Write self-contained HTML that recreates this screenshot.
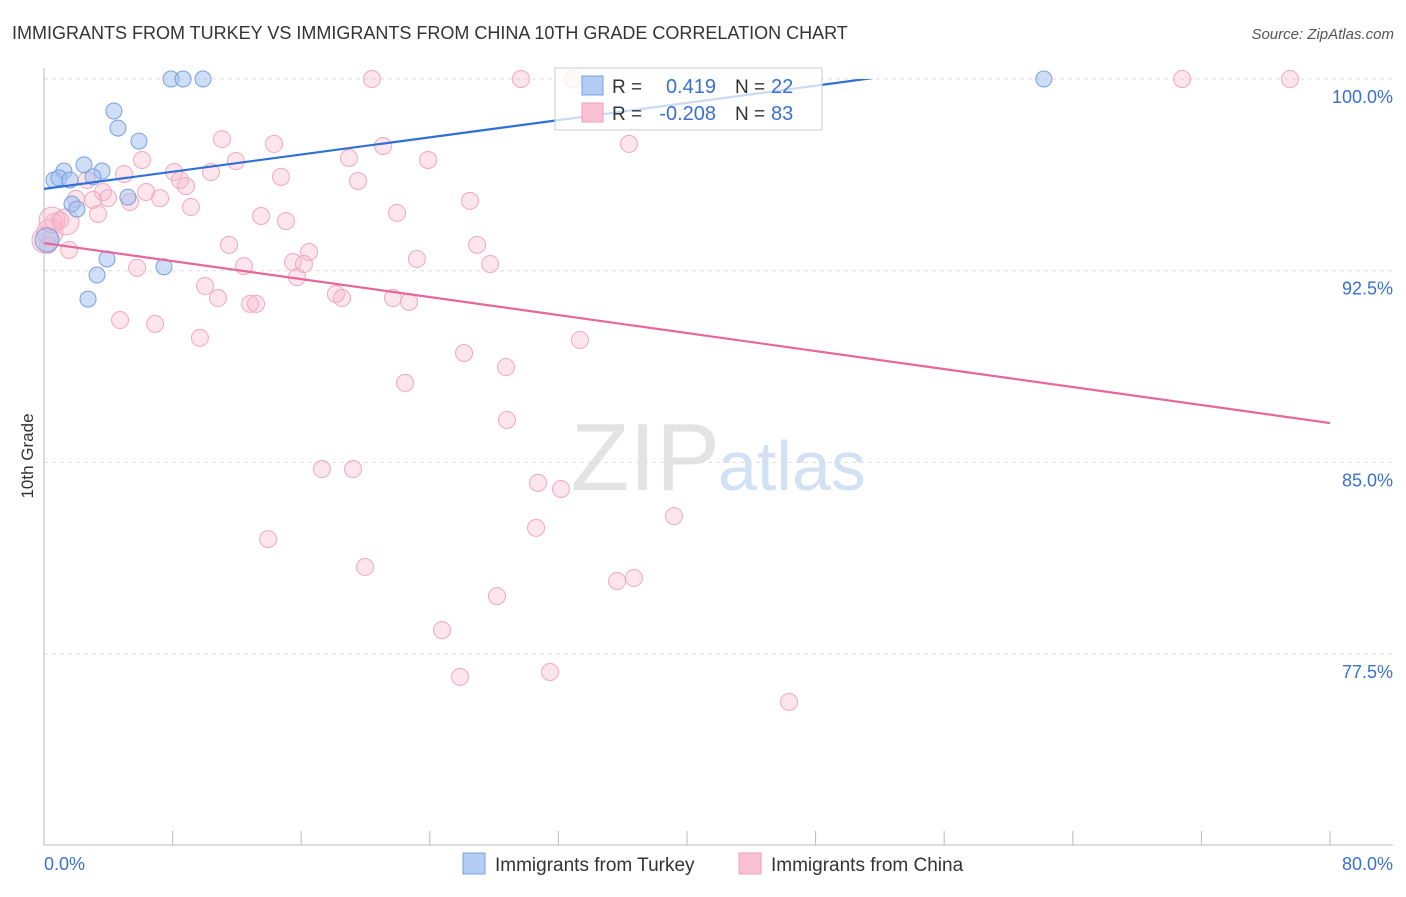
<!DOCTYPE html>
<html><head><meta charset="utf-8"><style>
body{margin:0;background:#fff;font-family:"Liberation Sans",sans-serif;}
svg text{font-family:"Liberation Sans",sans-serif;}
</style></head><body>
<svg id="chart" width="1406" height="892" xmlns="http://www.w3.org/2000/svg">
<text x="12" y="39" font-size="18" fill="#333">IMMIGRANTS FROM TURKEY VS IMMIGRANTS FROM CHINA 10TH GRADE CORRELATION CHART</text>
<text x="1394" y="39" font-size="15" fill="#555" text-anchor="end" font-style="italic">Source: ZipAtlas.com</text>
<text transform="translate(33,456) rotate(-90)" font-size="17" fill="#333" text-anchor="middle">10th Grade</text>
<text x="720" y="490" font-size="96" text-anchor="end" fill="#ddd" font-family="Liberation Serif" opacity="0.8">ZIP</text>
<text x="718" y="490" font-size="70" fill="#c8daf2" opacity="0.8">atlas</text>
<g id="grid"></g><g id="axes"></g><g id="pts"></g><g id="trend"></g>
<g>
<rect x="555" y="68" width="267" height="62" fill="#fff" fill-opacity="0.75" stroke="#ccc"/>
<rect x="582" y="76" width="21" height="19" fill="#b3cdf5" stroke="#7aa0e0"/>
<rect x="582" y="103" width="21" height="19" fill="#f9c1d3" stroke="#f0a0b8"/>
<text x="612" y="93" font-size="19" fill="#333">R =</text><text x="716" y="93" font-size="20" fill="#3a70d0" text-anchor="end">0.419</text>
<text x="735" y="93" font-size="19" fill="#333">N =</text><text x="771" y="93" font-size="20" fill="#3a70d0">22</text>
<text x="612" y="120" font-size="19" fill="#333">R =</text><text x="716" y="120" font-size="20" fill="#3a70d0" text-anchor="end">-0.208</text>
<text x="735" y="120" font-size="19" fill="#333">N =</text><text x="771" y="120" font-size="20" fill="#3a70d0">83</text>
</g>
<g>
<rect x="463" y="853" width="22" height="21" fill="#b3cdf5" stroke="#7aa0e0"/>
<text x="495" y="871" font-size="19" fill="#333">Immigrants from Turkey</text>
<rect x="739" y="853" width="22" height="21" fill="#f9c1d3" stroke="#f0a0b8"/>
<text x="771" y="871" font-size="19" fill="#333">Immigrants from China</text>
</g>
</svg>
<script>
const yTicks=[100,92.5,85,77.5];
const yTickLabels=["100.0%","92.5%","85.0%","77.5%"];
const xTicks=[0,8,16,24,32,40,48,56,64,72,80];
const turkeyX=[7.90,8.65,9.89,62.2,4.35,4.60,5.91,2.49,1.24,3.61,0.62,0.93,3.05,1.62,1.74,2.05,5.22,0.19,3.92,7.46,3.30,2.74];
const turkeyY=[100,100,100,100,98.75,98.08,97.57,96.64,96.40,96.40,96.05,96.13,96.17,96.05,95.11,94.91,95.38,93.70,92.96,92.65,92.33,91.39];
const chinaX=[20.40,29.67,32.91,70.80,77.51,11.07,14.31,21.09,36.39,6.10,18.97,23.89,8.09,11.94,4.98,10.39,14.74,19.53,8.46,8.83,2.67,3.67,6.35,7.22,5.35,1.99,3.05,3.98,9.14,3.36,13.50,15.05,21.96,26.50,1.00,0.62,1.56,0.25,11.51,16.49,26.94,5.79,12.44,15.49,16.17,23.20,27.75,15.74,10.02,18.16,18.54,10.82,12.82,13.19,21.71,22.71,4.73,6.91,9.70,33.34,26.13,28.74,22.46,28.80,17.29,19.22,30.73,32.16,39.19,30.61,13.94,19.97,36.70,35.65,28.18,24.76,25.88,31.48,46.35,0.06,0.37,0.50,1.37];
const chinaY=[100,100,100,100,100,97.65,97.46,97.38,97.46,96.83,96.91,96.83,96.36,96.79,96.28,96.36,96.17,96.01,96.05,95.81,96.05,95.58,95.58,95.34,95.19,95.31,95.27,95.34,94.99,94.72,94.64,94.44,94.76,95.23,94.48,94.41,93.31,93.51,93.51,93.23,93.51,92.61,92.68,92.84,92.76,92.96,92.76,92.25,91.90,91.59,91.43,91.43,91.20,91.20,91.43,91.28,90.57,90.42,89.87,89.79,89.28,88.73,88.11,86.66,84.74,84.74,84.20,83.96,82.90,82.44,82.00,80.91,80.48,80.36,79.77,78.44,76.61,76.80,75.63,93.70,94.01,94.48,94.41];
const turkeyTrend=[95.7,102.43];
const chinaTrend=[93.58,86.54];
const NS="http://www.w3.org/2000/svg";
const sx=v=>44+v/80*1286;
const sy=v=>79+(100-v)/7.5*191.7;
function mk(tag,attrs,parent){const e=document.createElementNS(NS,tag);for(const k in attrs)e.setAttribute(k,attrs[k]);document.getElementById(parent).appendChild(e);return e;}
yTicks.forEach((t,i)=>{
 const l=mk('line',{x1:44,x2:1393,y1:sy(t),y2:sy(t),stroke:'#ddd','stroke-dasharray':'4,4'},'grid');
 
 
 const tx=mk('text',{x:1393,y:sy(t)+24,'font-size':18,fill:'#3a70d0','text-anchor':'end'},'grid');
 tx.textContent=yTickLabels[i];
 
 
});
const ax=mk('line',{x1:44,x2:44,y1:68,y2:845,stroke:'#bbb'},'axes');


const bx=mk('line',{x1:44,x2:1393,y1:845,y2:845,stroke:'#bbb'},'axes');


xTicks.forEach(t=>{const l=mk('line',{x1:sx(t),x2:sx(t),y1:831,y2:845,stroke:'#bbb'},'axes');
 
 });
const x0=mk('text',{x:44,y:870,'font-size':18,fill:'#3a70d0'},'axes');x0.textContent='0.0%';


const x1=mk('text',{x:1393,y:870,'font-size':18,fill:'#3a70d0','text-anchor':'end'},'axes');x1.textContent='80.0%';


chinaX.forEach((x,i)=>{const big=i>=79;const c=mk('circle',{cx:sx(x),cy:sy(chinaY[i]),r:big?13:8.5,fill:'rgba(248,180,200,0.35)',stroke:'#f0a8c0','stroke-width':1},'pts');
 
 });
turkeyX.forEach((x,i)=>{const c=mk('circle',{cx:sx(x),cy:sy(turkeyY[i]),r:i==17?12:8,fill:'rgba(160,190,240,0.5)',stroke:'#7aa0e0','stroke-width':1},'pts');
 
 });
mk('clipPath',{id:'cp'},'trend');
mk('rect',{x:44,y:79,width:1300,height:770},'trend').remove();
document.querySelector('#cp').appendChild(Object.assign(document.createElementNS(NS,'rect'),{}));
const cr=document.querySelector('#cp rect');cr.setAttribute('x',44);cr.setAttribute('y',79);cr.setAttribute('width',1300);cr.setAttribute('height',770);
const tl=mk('line',{x1:sx(0),y1:sy(turkeyTrend[0]),x2:sx(80),y2:sy(turkeyTrend[1]),stroke:'#2f6fd6','stroke-width':2.2,'clip-path':'url(#cp)'},'trend');


const cl=mk('line',{x1:sx(0),y1:sy(chinaTrend[0]),x2:sx(80),y2:sy(chinaTrend[1]),stroke:'#e8679a','stroke-width':2.2},'trend');


</script>
</body></html>
